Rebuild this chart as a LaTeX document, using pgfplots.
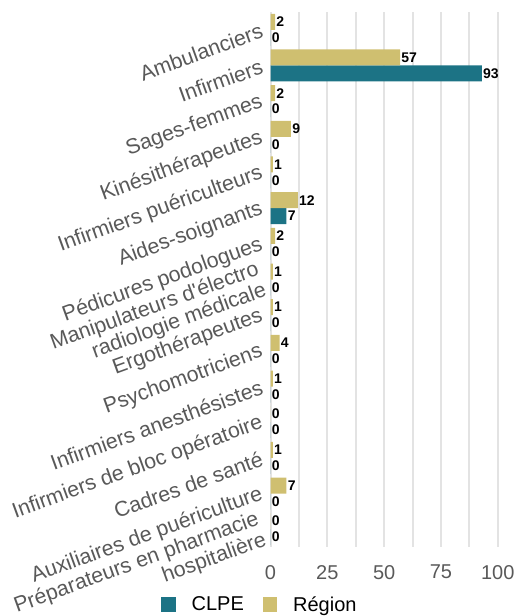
\documentclass[border=0pt]{standalone}
\usepackage{pgfplots}
\pgfplotsset{compat=1.18}
\usepackage{pgfplotstable}
\usepackage{fontspec}
\setmainfont{Liberation Sans}

\definecolor{clpe}{HTML}{1C7385}
\definecolor{region}{HTML}{CFBF70}
\definecolor{tickgray}{HTML}{595959}
\definecolor{gridgray}{HTML}{E3E3E3}

% idx 0 = Ambulanciers (top)
\pgfplotstableread{
idx region clpe
0  2  0
1  57 93
2  2  0
3  9  0
4  1  0
5  12 7
6  2  0
7  1  0
8  1  0
9  4  0
10 1  0
11 0  0
12 1  0
13 7  0
14 0  0
}\data

\begin{document}
\begin{tikzpicture}
\useasboundingbox (0,0) rectangle (387.75pt,462pt);
\begin{axis}[
    at={(202.9pt,51.75pt)}, anchor=south west,
    scale only axis, width=170.4pt, height=401.25pt,
    xmin=0, xmax=100, ymin=-0.5, ymax=14.5,
    y dir=reverse,
    xbar, bar width=12pt,
    xtick={0,25,50,75,100},
    minor xtick={12.5,37.5,62.5,87.5},
    xmajorgrids, xminorgrids,
    major grid style={draw=gridgray, line width=1.5pt},
    minor grid style={draw=gridgray, line width=1.5pt},
    axis line style={draw=none},
    major tick length=0, minor tick length=0,
    ytick={0,...,14},
    yticklabels={Ambulanciers, Infirmiers, Sages-femmes, Kinésithérapeutes,
      Infirmiers puériculteurs, Aides-soignants, Pédicures podologues,
      {Manipulateurs d\textquotesingle électro\\radiologie médicale}, Ergothérapeutes,
      Psychomotriciens, Infirmiers anesthésistes, Infirmiers de bloc opératoire,
      Cadres de santé, Auxiliaires de puériculture,
      {Préparateurs en pharmacie\\hospitalière}},
    yticklabel style={rotate=20, anchor=east, align=right, text=tickgray,
      font=\fontsize{16}{16.5}\selectfont, inner sep=2pt, xshift=-4pt, yshift=2pt},
    xticklabel style={text=tickgray, font=\fontsize{15}{16}\selectfont, yshift=-10pt},
    /pgf/number format/assume math mode=true,
    point meta=x,
    nodes near coords,
    nodes near coords style={font=\bfseries\fontsize{10.5}{11}\selectfont,
      text=black, anchor=west, inner sep=0.8pt},
    legend style={at={(axis description cs:-0.046,-0.108)}, anchor=center,
      draw=none, fill=none, legend columns=2,
      font=\fontsize{15}{16}\selectfont,
      /tikz/every odd column/.append style={column sep=10pt},
      /tikz/every even column/.append style={column sep=12pt}},
    legend image code/.code={\fill[#1] (0pt,-5.5pt) rectangle (11pt,5.5pt);},
]
\addplot[fill=clpe, draw=none, bar shift=-6pt] table[x=clpe, y=idx] {\data};
\addplot[fill=region, draw=none, bar shift=6pt] table[x=region, y=idx] {\data};
\legend{CLPE, Région}
\end{axis}
\end{tikzpicture}
\end{document}
